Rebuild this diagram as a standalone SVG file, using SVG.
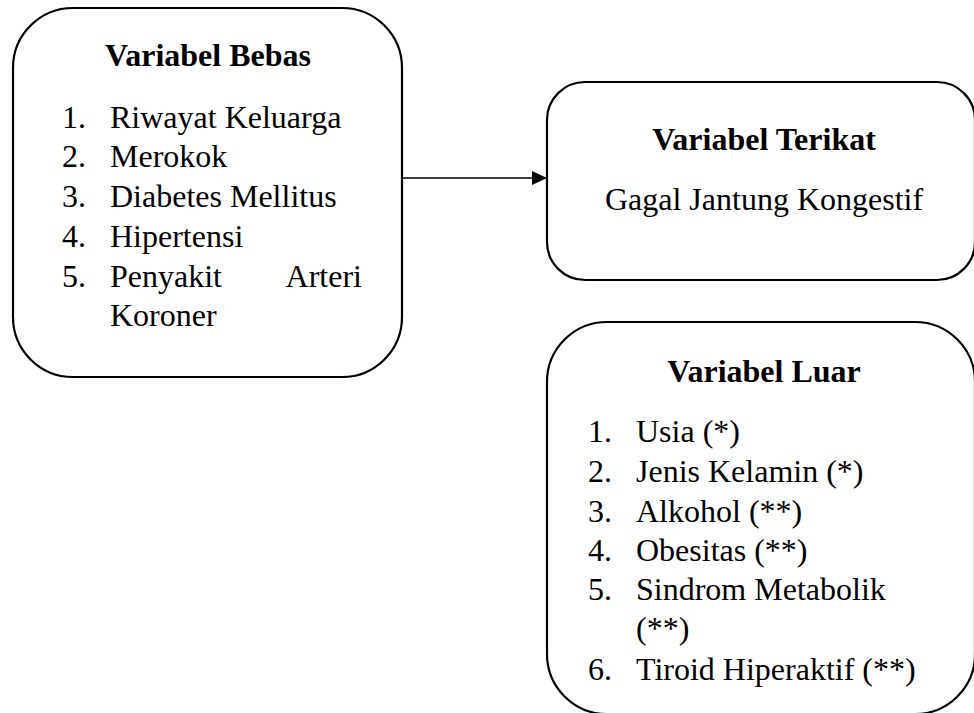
<svg xmlns="http://www.w3.org/2000/svg" width="974" height="713" viewBox="0 0 974 713">
<style>
.box{fill:#fff;stroke:#000;stroke-width:2.2}
.t{font-family:"Liberation Serif","Times New Roman",serif;font-size:32px;fill:#000}
.b{font-weight:bold;text-anchor:middle}
.c{text-anchor:middle}
</style>
<defs>
<marker id="ah" markerWidth="16" markerHeight="14" refX="15" refY="7" orient="auto" markerUnits="userSpaceOnUse">
<path d="M0,0 L15,7 L0,14 Z" fill="#000"/>
</marker>
</defs>
<rect width="974" height="713" fill="#fff"/>
<g id="connectors">
<line x1="402" y1="178" x2="547" y2="178" stroke="#000" stroke-width="1.3" marker-end="url(#ah)"/>
</g>
<g id="bebas">
<rect class="box" x="13" y="8" width="389" height="369" rx="60" ry="60"/>
<text class="t b" x="208" y="66">Variabel Bebas</text>
<text class="t" x="62" y="128">1.</text><text class="t" x="110" y="128">Riwayat Keluarga</text>
<text class="t" x="62" y="167">2.</text><text class="t" x="110" y="167">Merokok</text>
<text class="t" x="62" y="207">3.</text><text class="t" x="110" y="207">Diabetes Mellitus</text>
<text class="t" x="62" y="247">4.</text><text class="t" x="110" y="247">Hipertensi</text>
<text class="t" x="62" y="287">5.</text><text class="t" x="110" y="287">Penyakit</text><text class="t" x="362" y="287" text-anchor="end">Arteri</text>
<text class="t" x="110" y="326">Koroner</text>
</g>
<g id="terikat">
<rect class="box" x="547" y="82" width="428" height="198" rx="38" ry="38"/>
<text class="t b" x="764" y="150">Variabel Terikat</text>
<text class="t c" x="764" y="210">Gagal Jantung Kongestif</text>
</g>
<g id="luar">
<rect class="box" x="547" y="322" width="428" height="392" rx="60" ry="60"/>
<text class="t b" x="764" y="382">Variabel Luar</text>
<text class="t" x="588" y="442">1.</text><text class="t" x="636" y="442">Usia (*)</text>
<text class="t" x="588" y="482">2.</text><text class="t" x="636" y="482">Jenis Kelamin (*)</text>
<text class="t" x="588" y="522">3.</text><text class="t" x="636" y="522">Alkohol (**)</text>
<text class="t" x="588" y="561">4.</text><text class="t" x="636" y="561">Obesitas (**)</text>
<text class="t" x="588" y="600">5.</text><text class="t" x="636" y="600">Sindrom Metabolik</text>
<text class="t" x="636" y="639">(**)</text>
<text class="t" x="588" y="680">6.</text><text class="t" x="636" y="680">Tiroid Hiperaktif (**)</text>
</g>
</svg>
